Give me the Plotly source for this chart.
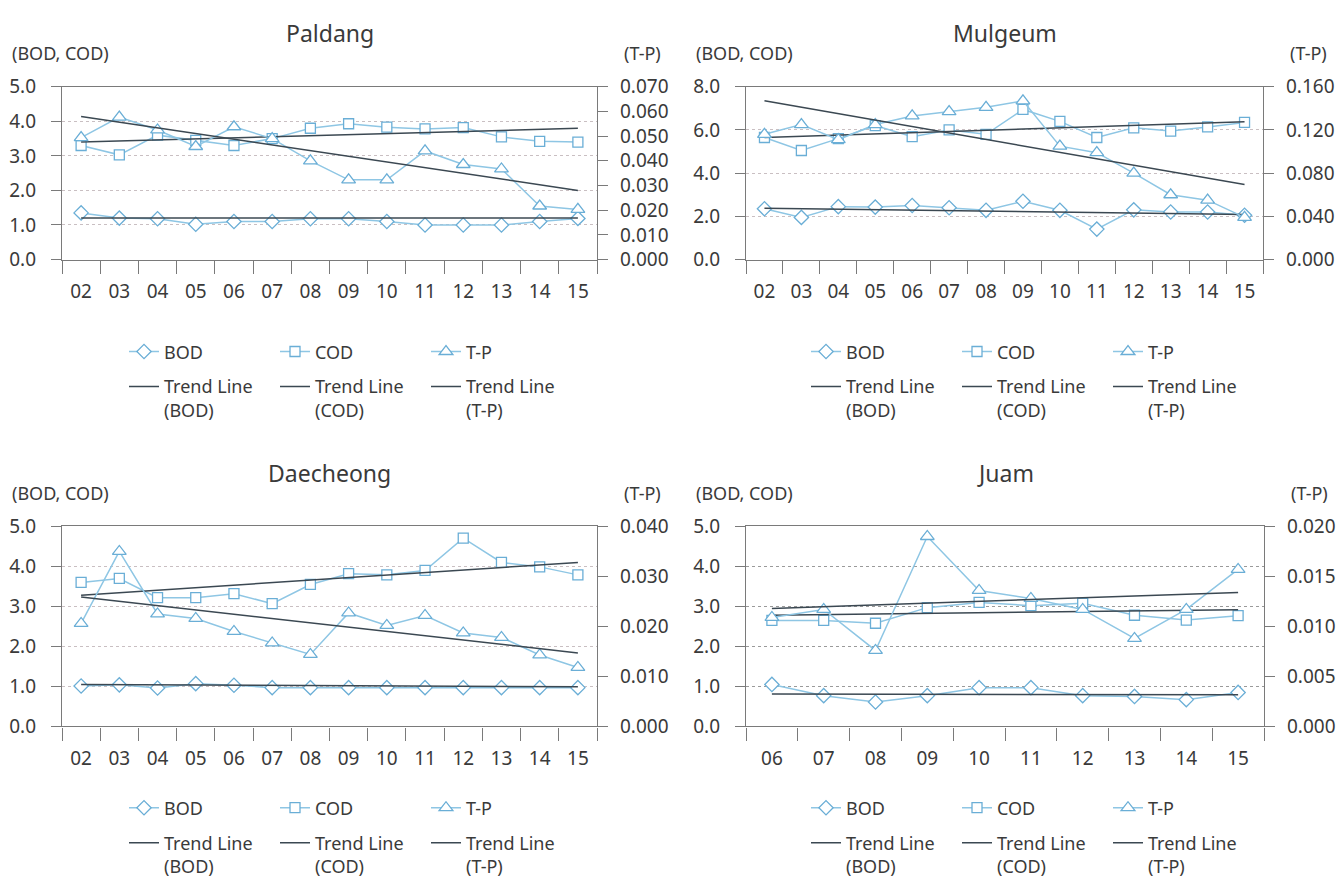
import plotly.graph_objects as go

FONT = "Noto Sans"
TXT = "#3a3a3a"
AX = "#7a7a7a"
DATA_LINE = "#8ec6e4"
MARK_LINE = "#6aaed6"
TREND = "#3b4852"

years_a = ["02", "03", "04", "05", "06", "07", "08", "09", "10", "11", "12", "13", "14", "15"]
years_b = ["06", "07", "08", "09", "10", "11", "12", "13", "14", "15"]

# Paldang
paldang_bod = [1.35, 1.2, 1.18, 1.02, 1.1, 1.1, 1.18, 1.18, 1.1, 1.0, 1.0, 1.0, 1.1, 1.19]
paldang_cod = [3.3, 3.03, 3.6, 3.45, 3.3, 3.5, 3.8, 3.93, 3.83, 3.78, 3.82, 3.55, 3.42, 3.4]
paldang_tp = [0.0494, 0.0577, 0.0525, 0.0458, 0.0538, 0.049, 0.040, 0.0323, 0.0323, 0.044, 0.0385, 0.0367, 0.0217, 0.0203]
paldang_trend_bod = [1.2, 1.2]
paldang_trend_cod = [3.4, 3.8]
paldang_trend_tp = [0.058, 0.028]

# Mulgeum
mulgeum_bod = [2.35, 1.95, 2.45, 2.43, 2.5, 2.4, 2.28, 2.7, 2.28, 1.41, 2.3, 2.2, 2.2, 2.05]
mulgeum_cod = [5.65, 5.05, 5.6, 6.2, 5.69, 6.0, 5.8, 6.95, 6.4, 5.65, 6.1, 5.95, 6.14, 6.35]
mulgeum_tp = [0.116, 0.125, 0.111, 0.125, 0.133, 0.137, 0.141, 0.147, 0.105, 0.099, 0.080, 0.060, 0.055, 0.039]
mulgeum_trend_bod = [2.38, 2.08]
mulgeum_trend_cod = [5.65, 6.38]
mulgeum_trend_tp = [0.147, 0.0695]

# Daecheong
daecheong_bod = [1.01, 1.04, 0.96, 1.07, 1.03, 0.97, 0.97, 0.97, 0.97, 0.97, 0.97, 0.97, 0.97, 0.97]
daecheong_cod = [3.6, 3.7, 3.22, 3.22, 3.32, 3.07, 3.55, 3.82, 3.79, 3.9, 4.71, 4.1, 3.99, 3.79]
daecheong_tp = [0.0206, 0.035, 0.0225, 0.0216, 0.019, 0.0167, 0.0144, 0.0227, 0.0202, 0.0222, 0.0187, 0.0178, 0.0143, 0.0118]
daecheong_trend_bod = [1.05, 0.99]
daecheong_trend_cod = [3.28, 4.1]
daecheong_trend_tp = [0.0259, 0.0147]

# Juam
juam_bod = [1.05, 0.77, 0.61, 0.77, 0.97, 0.97, 0.77, 0.75, 0.67, 0.85]
juam_cod = [2.65, 2.65, 2.58, 2.97, 3.1, 3.02, 3.08, 2.78, 2.66, 2.77]
juam_tp = [0.0109, 0.0117, 0.0076, 0.019, 0.0136, 0.0128, 0.0117, 0.0088, 0.0117, 0.0157]
juam_trend_bod = [0.81, 0.79]
juam_trend_cod = [2.78, 2.92]
juam_trend_tp = [0.0118, 0.0134]

W, H = 1336, 886

panels = [
    dict(title="Paldang", cats=years_a, bod=paldang_bod, cod=paldang_cod, tp=paldang_tp,
         tb=paldang_trend_bod, tc=paldang_trend_cod, tt=paldang_trend_tp,
         lrange=[0, 5], ldt=1, rrange=[0, 0.07], rdt=0.01,
         box=(62, 597, 76, 254), grid="#c9bfc2", legx=124, legy=(330, 366)),
    dict(title="Mulgeum", cats=years_a, bod=mulgeum_bod, cod=mulgeum_cod, tp=mulgeum_tp,
         tb=mulgeum_trend_bod, tc=mulgeum_trend_cod, tt=mulgeum_trend_tp,
         lrange=[0, 8], ldt=2, rrange=[0, 0.16], rdt=0.04,
         box=(746, 1263, 76, 254), grid="#c9bfc2", legx=806, legy=(330, 366)),
    dict(title="Daecheong", cats=years_a, bod=daecheong_bod, cod=daecheong_cod, tp=daecheong_tp,
         tb=daecheong_trend_bod, tc=daecheong_trend_cod, tt=daecheong_trend_tp,
         lrange=[0, 5], ldt=1, rrange=[0, 0.04], rdt=0.01,
         box=(62, 597, 529, 735), grid="#c9bfc2", legx=124, legy=(800, 836)),
    dict(title="Juam", cats=years_b, bod=juam_bod, cod=juam_cod, tp=juam_tp,
         tb=juam_trend_bod, tc=juam_trend_cod, tt=juam_trend_tp,
         lrange=[0, 5], ldt=1, rrange=[0, 0.02], rdt=0.005,
         box=(746, 1264, 529, 735), grid="#9a9a9a", legx=806, legy=(800, 836)),
]

fig = go.Figure()
layout = dict(width=W, height=H, margin=dict(l=0, r=0, t=0, b=0),
              paper_bgcolor="white", plot_bgcolor="white",
              font=dict(family=FONT, size=18, color=TXT), showlegend=True)
annotations = []
TICKFONT = dict(family=FONT, size=19, color=TXT)

for i, p in enumerate(panels):
    xi = i + 1
    yl = 2 * i + 1
    yr = 2 * i + 2
    xname = "x" if xi == 1 else f"x{xi}"
    ylname = "y" if yl == 1 else f"y{yl}"
    yrname = f"y{yr}"
    leg_a = "legend" if i == 0 else f"legend{2 * i + 1}"
    leg_b = f"legend{2 * i + 2}"
    cats = p["cats"]
    x0, x1, y0, y1 = p["box"]
    xd = [x0 / W, x1 / W]
    yd = [1 - y1 / H, 1 - y0 / H]

    common = dict(mode="lines+markers", line=dict(color=DATA_LINE, width=1.5), legend=leg_a)
    fig.add_trace(go.Scatter(x=cats, y=p["bod"], name="BOD", xaxis=xname, yaxis=ylname,
                             marker=dict(symbol="diamond", size=11, color="white",
                                         line=dict(color=MARK_LINE, width=1.3)), **common))
    fig.add_trace(go.Scatter(x=cats, y=p["cod"], name="COD", xaxis=xname, yaxis=ylname,
                             marker=dict(symbol="square", size=10, color="white",
                                         line=dict(color=MARK_LINE, width=1.3)), **common))
    fig.add_trace(go.Scatter(x=cats, y=p["tp"], name="T-P", xaxis=xname, yaxis=yrname,
                             marker=dict(symbol="triangle-up", size=12, color="white",
                                         line=dict(color=MARK_LINE, width=1.3)), **common))
    tcommon = dict(mode="lines", line=dict(color=TREND, width=1.5), legend=leg_b)
    ends = [cats[0], cats[-1]]
    fig.add_trace(go.Scatter(x=ends, y=p["tb"], name="Trend Line<br>(BOD)",
                             xaxis=xname, yaxis=ylname, **tcommon))
    fig.add_trace(go.Scatter(x=ends, y=p["tc"], name="Trend Line<br>(COD)",
                             xaxis=xname, yaxis=ylname, **tcommon))
    fig.add_trace(go.Scatter(x=ends, y=p["tt"], name="Trend Line<br>(T-P)",
                             xaxis=xname, yaxis=yrname, **tcommon))

    xkey = "xaxis" if xi == 1 else f"xaxis{xi}"
    ylkey = "yaxis" if yl == 1 else f"yaxis{yl}"
    yrkey = f"yaxis{yr}"
    layout[xkey] = dict(domain=xd, anchor=ylname, type="category", categoryorder="array",
                        categoryarray=cats, range=[-0.5, len(cats) - 0.5],
                        tickson="boundaries", ticks="outside", ticklen=13, tickwidth=1.2,
                        tickcolor=AX, showline=True, linecolor=AX, linewidth=1.3, mirror=True,
                        showgrid=False, zeroline=False, ticklabelstandoff=15,
                        tickfont=TICKFONT)
    layout[ylkey] = dict(domain=yd, anchor=xname, range=p["lrange"], dtick=p["ldt"], tick0=0,
                         tickformat=".1f", ticks="outside", ticklen=10, tickwidth=1.2,
                         tickcolor=AX, showline=True, linecolor=AX, linewidth=1.3, mirror=True,
                         showgrid=True, gridcolor=p["grid"], griddash="dot", gridwidth=1.2,
                         zeroline=False, ticklabelstandoff=11, tickfont=TICKFONT)
    layout[yrkey] = dict(domain=yd, anchor=xname, overlaying=ylname, side="right",
                         range=p["rrange"], dtick=p["rdt"], tick0=0, tickformat=".3f",
                         ticks="outside", ticklen=10, tickwidth=1.2, tickcolor=AX,
                         showline=True, linecolor=AX, linewidth=1.3, showgrid=False,
                         zeroline=False, ticklabelstandoff=8, tickfont=TICKFONT)
    legx = p["legx"]
    la, lb = p["legy"]
    layout[leg_a] = dict(x=legx / W, y=1 - la / H, xanchor="left", yanchor="top",
                         orientation="h", entrywidth=106, entrywidthmode="pixels",
                         font=dict(family=FONT, size=18, color=TXT), bgcolor="rgba(0,0,0,0)",
                         itemclick=False, itemdoubleclick=False)
    layout[leg_b] = dict(x=legx / W, y=1 - lb / H, xanchor="left", yanchor="top",
                         orientation="h", entrywidth=106, entrywidthmode="pixels",
                         valign="top",
                         font=dict(family=FONT, size=18, color=TXT), bgcolor="rgba(0,0,0,0)",
                         itemclick=False, itemdoubleclick=False)

    cx = (x0 + x1) / 2
    annotations.append(dict(text=p["title"], x=cx / W, y=1 - (y0 - 55) / H, xref="paper",
                            yref="paper", xanchor="center", yanchor="middle", showarrow=False,
                            font=dict(family=FONT, size=23, color=TXT)))
    annotations.append(dict(text="(BOD, COD)", x=(x0 - 52) / W, y=1 - (y0 - 35) / H,
                            xref="paper", yref="paper", xanchor="left", yanchor="middle",
                            showarrow=False, font=dict(family=FONT, size=18, color=TXT)))
    annotations.append(dict(text="(T-P)", x=(x1 + 66) / W, y=1 - (y0 - 35) / H,
                            xref="paper", yref="paper", xanchor="right", yanchor="middle",
                            showarrow=False, font=dict(family=FONT, size=18, color=TXT)))

layout["annotations"] = annotations
fig.update_layout(**layout)
fig.write_html(
    "out.html",
    config={"displayModeBar": False},
    post_script="document.body.style.margin='0';document.body.style.overflow='hidden';",
)
